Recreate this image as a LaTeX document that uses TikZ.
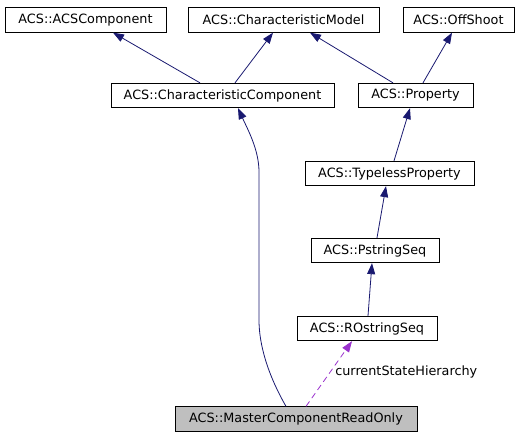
\documentclass[tikz,border=0pt]{standalone}
\usepackage{fontspec}
\setmainfont{DejaVu Sans}
\usetikzlibrary{arrows.meta}
\definecolor{navyedge}{HTML}{191970}
\definecolor{purpleedge}{HTML}{9A32CD}
\definecolor{boxgray}{HTML}{BFBFBF}
\begin{document}
\begin{tikzpicture}[x=1pt,y=1pt,
  cls/.style={draw=black, line width=0.8pt, minimum height=24.5pt, inner sep=0pt, font=\fontsize{12.8}{15}\selectfont, fill=white},
  inh/.style={navyedge, line width=0.8pt, -{Triangle[length=11pt,width=8pt]}},
  usedby/.style={purpleedge, line width=0.8pt, dash pattern=on 6pt off 4pt, -{Triangle[length=11pt,width=8pt]}},
  lbl/.style={font=\fontsize{12.8}{15}\selectfont, inner sep=0pt, text=black}]
\useasboundingbox (0,0) rectangle (523,-437);
\node[cls, minimum width=161pt] (acs) at (85.5,-20) {ACS::ACSComponent};
\node[cls, minimum width=191pt] (cm) at (283.5,-20) {ACS::CharacteristicModel};
\node[cls, minimum width=111pt] (off) at (458.5,-20) {ACS::OffShoot};
\node[cls, minimum width=223pt] (cc) at (222.5,-95.5) {ACS::CharacteristicComponent};
\node[cls, minimum width=115pt] (prop) at (415.5,-95.5) {ACS::Property};
\node[cls, minimum width=169pt] (tp) at (389.5,-173.5) {ACS::TypelessProperty};
\node[cls, minimum width=128pt] (ps) at (375,-250.5) {ACS::PstringSeq};
\node[cls, minimum width=140pt] (ro) at (367,-328.5) {ACS::ROstringSeq};
\node[cls, minimum width=242pt, fill=boxgray] (mc) at (296,-419) {ACS::MasterComponentReadOnly};

\draw[inh] ([xshift=-22.5pt]cc.north) -- ([xshift=27.5pt]acs.south);
\draw[inh] ([xshift=12.5pt]cc.north) -- ([xshift=-10.5pt]cm.south);
\draw[inh] ([xshift=-22.5pt]prop.north) -- ([xshift=26.5pt]cm.south);
\draw[inh] ([xshift=7.5pt]prop.north) -- ([xshift=-6.5pt]off.south);
\draw[inh] ([xshift=4.5pt]tp.north) -- ([xshift=-5.5pt]prop.south);
\draw[inh] ([xshift=2pt]ps.north) -- ([xshift=-3.5pt]tp.south);
\draw[inh] ([xshift=1pt]ro.north) -- ([xshift=-3pt]ps.south);
\draw[inh] ([xshift=-10pt]mc.north) .. controls (268,-375) and (259,-345) .. (259,-320)
  -- (259,-172) .. controls (259,-150) and (248,-130) .. ([xshift=15.5pt]cc.south);
\draw[usedby] ([xshift=10pt]mc.north) -- ([xshift=-15pt]ro.south)
  node[lbl, pos=0.52, anchor=west, xshift=5pt] (lab) {currentStateHierarchy};
\end{tikzpicture}
\end{document}
